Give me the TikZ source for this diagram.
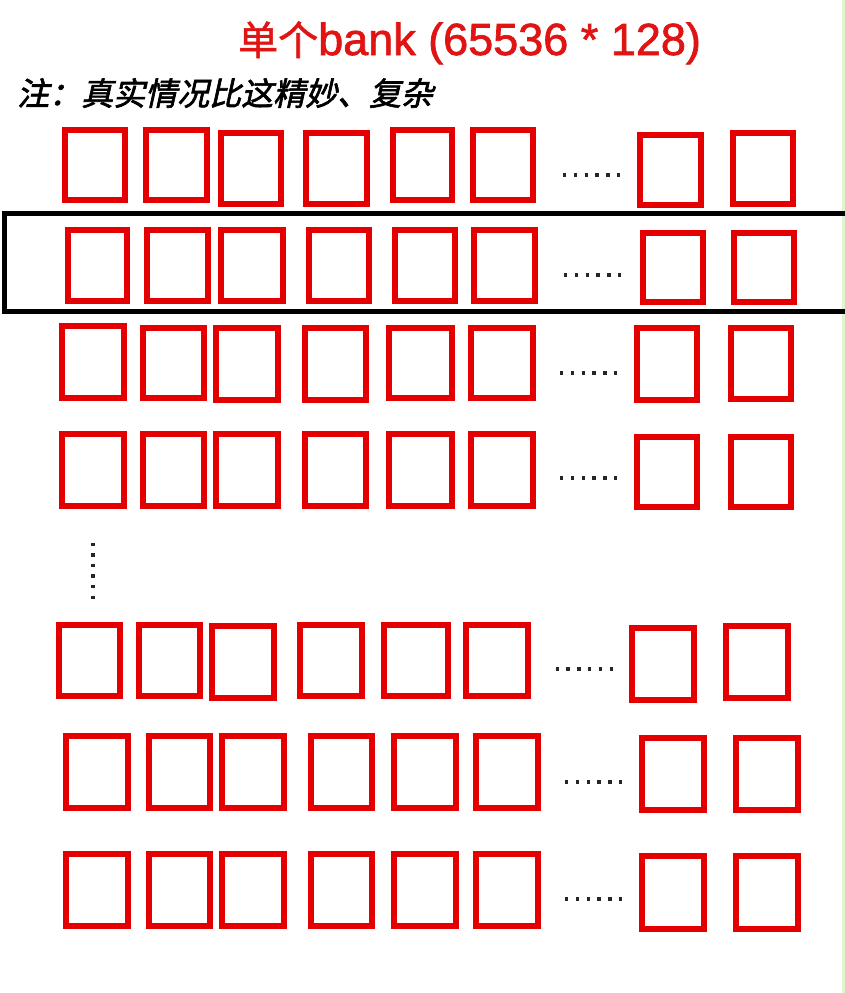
\documentclass[tikz,border=0pt]{standalone}
\usepackage{fontspec}
\newfontfamily\cjktitle{Noto Sans CJK SC}[FakeBold=1.5]
\newfontfamily\lattitle{Liberation Sans}[FakeBold=1.6]
\newfontfamily\cjknote{Noto Sans CJK SC}[FakeSlant=0.22,FakeBold=2]
\definecolor{boxred}{RGB}{228,0,0}
\definecolor{titlered}{RGB}{225,20,20}
\definecolor{edgegreen}{RGB}{222,245,205}
\newcommand\bx[5]{\node[cell, minimum width={#4-#2-6}, minimum height={#5-#3-6}] (#1) at ({(#2+#4)/2},{(#3+#5)/2}) {};}
\begin{document}
\begin{tikzpicture}[x=1pt,y=-1pt,
  cell/.style={draw=boxred, line width=6pt, rectangle, inner sep=0pt, outer sep=0pt, fill=white},
  hdots/.style={line width=3.4pt, dash pattern=on 3.4pt off 7.4pt, line cap=butt, black!85},
  vdots/.style={line width=3.4pt, dash pattern=on 3.4pt off 7.2pt, line cap=butt, black!85},
  frame/.style={draw=black, line width=5pt}]
\useasboundingbox (0,0) rectangle (845,993);
\clip (0,0) rectangle (845,993);
\fill[white] (0,0) rectangle (845,993);
\draw[edgegreen, line width=3pt] (843.5,0) -- (843.5,993);
% title and note
\node[text=titlered, anchor=base west, inner sep=0pt] (title) at (238,55)
  {{\cjktitle\fontsize{40}{44}\selectfont 单个}{\lattitle\fontsize{45}{50}\selectfont bank (65536 * 128)}};
\node[anchor=west, font=\cjknote\fontsize{32}{36}\selectfont, inner sep=0pt] (note) at (17,93) {注：真实情况比这精妙、复杂};
% row 1
\bx{a1}{62}{127}{128}{203}\bx{a2}{143}{127}{210}{203}\bx{a3}{218}{130}{284}{207}\bx{a4}{303}{130}{370}{207}
\bx{a5}{390}{127}{455}{203}\bx{a6}{470}{127}{536}{203}\bx{a7}{637}{132}{704}{208}\bx{a8}{730}{130}{796}{207}
\coordinate (d1) at (563,175);
\draw[hdots] (d1) -- ++(57.5,0);
% row 2
\bx{b1}{65}{227}{130}{304}\bx{b2}{144}{227}{211}{304}\bx{b3}{218}{227}{286}{304}\bx{b4}{306}{227}{372}{304}
\bx{b5}{392}{227}{458}{304}\bx{b6}{471}{227}{538}{304}\bx{b7}{640}{230}{706}{305}\bx{b8}{731}{230}{797}{305}
\coordinate (d2) at (564,275);
\draw[hdots] (d2) -- ++(57.5,0);
% frame around row 2
\node[frame, rectangle, inner sep=0pt, minimum width=860, minimum height=98.5, anchor=north west] (rowframe) at (2,210.5) {};
% row 3
\bx{c1}{59}{323}{127}{401}\bx{c2}{140}{325}{207}{401}\bx{c3}{213}{325}{281}{403}\bx{c4}{302}{325}{369}{403}
\bx{c5}{386}{325}{455}{401}\bx{c6}{468}{325}{536}{401}\bx{c7}{634}{325}{700}{403}\bx{c8}{728}{325}{794}{402}
\coordinate (d3) at (560,373);
\draw[hdots] (d3) -- ++(57.5,0);
% row 4
\bx{e1}{59}{431}{127}{509}\bx{e2}{140}{431}{207}{509}\bx{e3}{213}{431}{281}{509}\bx{e4}{302}{431}{369}{509}
\bx{e5}{386}{431}{455}{509}\bx{e6}{468}{431}{536}{509}\bx{e7}{634}{434}{700}{510}\bx{e8}{728}{434}{794}{510}
\coordinate (d4) at (560,478);
\draw[hdots] (d4) -- ++(57.5,0);
% vertical dots
\coordinate (vd) at (93,542.5);
\draw[vdots] (vd) -- ++(0,56);
% row 5
\bx{f1}{56}{622}{123}{699}\bx{f2}{136}{622}{203}{699}\bx{f3}{209}{623}{277}{701}\bx{f4}{297}{622}{365}{699}
\bx{f5}{381}{622}{451}{699}\bx{f6}{463}{622}{531}{699}\bx{f7}{629}{625}{697}{703}\bx{f8}{723}{623}{791}{701}
\coordinate (d5) at (555.5,669);
\draw[hdots] (d5) -- ++(57.5,0);
% row 6
\bx{g1}{63}{733}{131}{811}\bx{g2}{146}{733}{213}{811}\bx{g3}{219}{733}{287}{811}\bx{g4}{308}{733}{375}{811}
\bx{g5}{391}{733}{459}{811}\bx{g6}{473}{733}{541}{811}\bx{g7}{639}{735}{707}{813}\bx{g8}{733}{735}{801}{813}
\coordinate (d6) at (565,782);
\draw[hdots] (d6) -- ++(57.5,0);
% row 7
\bx{h1}{63}{851}{131}{929}\bx{h2}{146}{851}{213}{929}\bx{h3}{219}{851}{287}{929}\bx{h4}{308}{851}{375}{929}
\bx{h5}{391}{851}{459}{929}\bx{h6}{473}{851}{541}{929}\bx{h7}{639}{853}{707}{932}\bx{h8}{733}{853}{801}{932}
\coordinate (d7) at (565,899);
\draw[hdots] (d7) -- ++(57.5,0);
\end{tikzpicture}
\end{document}
